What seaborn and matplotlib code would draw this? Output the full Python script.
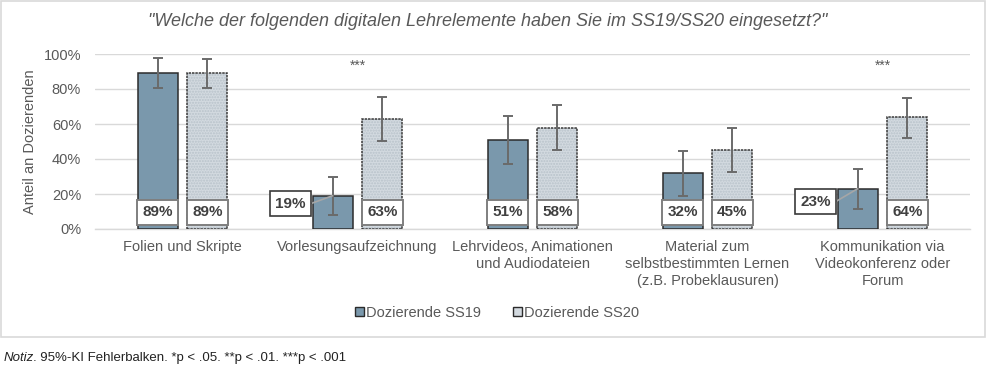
import matplotlib
matplotlib.use("Agg")
import matplotlib.pyplot as plt
import seaborn as sns
import pandas as pd
import numpy as np
from matplotlib.patches import Rectangle, Patch

categories = ["Folien und Skripte", "Vorlesungsaufzeichnung",
              "Lehrvideos, Animationen\nund Audiodateien",
              "Material zum\nselbstbestimmten Lernen\n(z.B. Probeklausuren)",
              "Kommunikation via\nVideokonferenz oder\nForum"]
series = ["Dozierende SS19", "Dozierende SS20"]
ss19 = [89, 19, 51, 32, 23]
ss20 = [89, 63, 58, 45, 64]
ss19_lo = [80.5, 8, 37, 19, 11.5]
ss19_hi = [97.5, 30, 64.7, 44.7, 34.5]
ss20_lo = [80.8, 50.5, 45.3, 32.4, 52]
ss20_hi = [96.9, 75.4, 70.7, 57.5, 75.1]
sig = ["", "***", "", "", "***"]
yticks = [0, 20, 40, 60, 80, 100]

c19 = "#7A98AC"
c20 = "#D3DAE0"
txt = "#595959"

df = pd.DataFrame({
    "cat": categories * 2,
    "serie": [series[0]] * 5 + [series[1]] * 5,
    "val": ss19 + ss20,
})

sns.set_theme(style="white")
plt.rcParams["font.family"] = ["Liberation Sans", "DejaVu Sans"]

fig = plt.figure(figsize=(9.88, 3.67), dpi=100)
ax = fig.add_axes([95 / 988, 1 - 229 / 367, 875 / 988, 175 / 367])

sns.barplot(data=df, x="cat", y="val", hue="serie", order=categories,
            hue_order=series, palette=[c19, c20], width=0.571, gap=0.2,
            saturation=1, errorbar=None, ax=ax, legend=False, zorder=3)

bars = ax.patches[:10]
los = ss19_lo + ss20_lo
his = ss19_hi + ss20_hi
vals = ss19 + ss20
centers = []
for i, p in enumerate(bars):
    cx = p.get_x() + p.get_width() / 2
    centers.append(cx)
    if i >= 5:
        p.set_hatch("......")
        p.set_edgecolor("#B8C2CA")
        p.set_linewidth(0)
        ax.add_patch(Rectangle((p.get_x(), p.get_y()), p.get_width(), p.get_height(),
                               fill=False, ec="#3a3a3a", lw=1.1,
                               ls=(0, (1.6, 0.6)), zorder=3.5))
    else:
        p.set_edgecolor("#2b2b2b")
        p.set_linewidth(1.1)
    v = vals[i]
    ax.errorbar(cx, v, yerr=[[v - los[i]], [his[i] - v]], fmt="none",
                ecolor="#6a6a6a", elinewidth=1.4, capsize=3.5, capthick=1.4, zorder=5)

# value labels
for i, cx in enumerate(centers):
    v = vals[i]
    label = f"{v}%"
    if i == 1 or i == 4:
        box = dict(boxstyle="square,pad=0.35", fc="white", ec="#3a3a3a", lw=1.2)
        off = (-42, -8) if i == 1 else (-42, -13)
        ax.annotate(label, xy=(cx, v), xytext=off, textcoords="offset pixels",
                    ha="center", va="center", fontsize=11, fontweight="bold",
                    color="#404040", bbox=box, zorder=6,
                    arrowprops=dict(arrowstyle="-", color="#A6A6A6", lw=1.2,
                                    shrinkA=0, shrinkB=0,
                                    connectionstyle="arc,angleA=0,armA=20,angleB=0,armB=0,rad=0"))
    else:
        box = dict(boxstyle="square,pad=0.35", fc="white", ec="#7f7f7f", lw=1.4)
        ax.text(cx, 9.5, label, ha="center", va="center", fontsize=11,
                fontweight="bold", color="#404040", bbox=box, zorder=6)

for j, s in enumerate(sig):
    if s:
        ax.text(j, 93, s, ha="center", va="center", fontsize=10, color=txt)

ax.set_xlim(-0.5, 4.5)
ax.set_ylim(0, 100)
ax.set_yticks(yticks)
ax.set_yticklabels([f"{t}%" for t in yticks], fontsize=10.5, color=txt)
ax.set_xticks(range(len(categories)))
ax.set_xticklabels(categories, linespacing=1.25)
ax.tick_params(axis="x", labelsize=10.5, labelcolor=txt, length=0, pad=8)
ax.tick_params(axis="y", length=0, pad=10)
ax.set_xlabel("")
ax.set_ylabel("Anteil an Dozierenden", fontsize=10.5, color=txt, labelpad=5)
ax.yaxis.grid(True, color="#D9D9D9", lw=1, zorder=0)
ax.set_axisbelow(True)
for s in ["top", "right", "left"]:
    ax.spines[s].set_visible(False)
ax.spines["bottom"].set_color("#D9D9D9")
ax.spines["bottom"].set_linewidth(1)

fig.text(488 / 988, 1 - 22 / 367, '"Welche der folgenden digitalen Lehrelemente haben Sie im SS19/SS20 eingesetzt?"',
         ha="center", va="center", fontsize=13, style="italic", color=txt)

handles = [Patch(facecolor=c19, edgecolor="#2b2b2b", lw=1),
           Patch(facecolor=c20, edgecolor="#2b2b2b", lw=1)]
fig.legend(handles, series, loc="center", bbox_to_anchor=(497 / 988, 1 - 313 / 367),
           ncol=2, frameon=False, fontsize=10.5, labelcolor=txt,
           handlelength=0.6, handleheight=0.6, handletextpad=0.15, columnspacing=2.2)

fig.patches.append(Rectangle((1 / 988, 1 - 337 / 367), 984 / 988, 336 / 367,
                             transform=fig.transFigure, fill=False,
                             ec="#D9D9D9", lw=1.2))

t1 = fig.text(4 / 988, 1 - 358 / 367, "Notiz", fontsize=9.5, style="italic",
              color="#222222", va="center", ha="left")
ax.annotate(". 95%-KI Fehlerbalken. *p < .05. **p < .01. ***p < .001",
            xy=(1, 0.5), xycoords=t1, xytext=(-1.5, 0), textcoords="offset pixels",
            va="center", ha="left", fontsize=9.5, color="#222222",
            annotation_clip=False)

fig.savefig("out.png", dpi=100, facecolor="white")
